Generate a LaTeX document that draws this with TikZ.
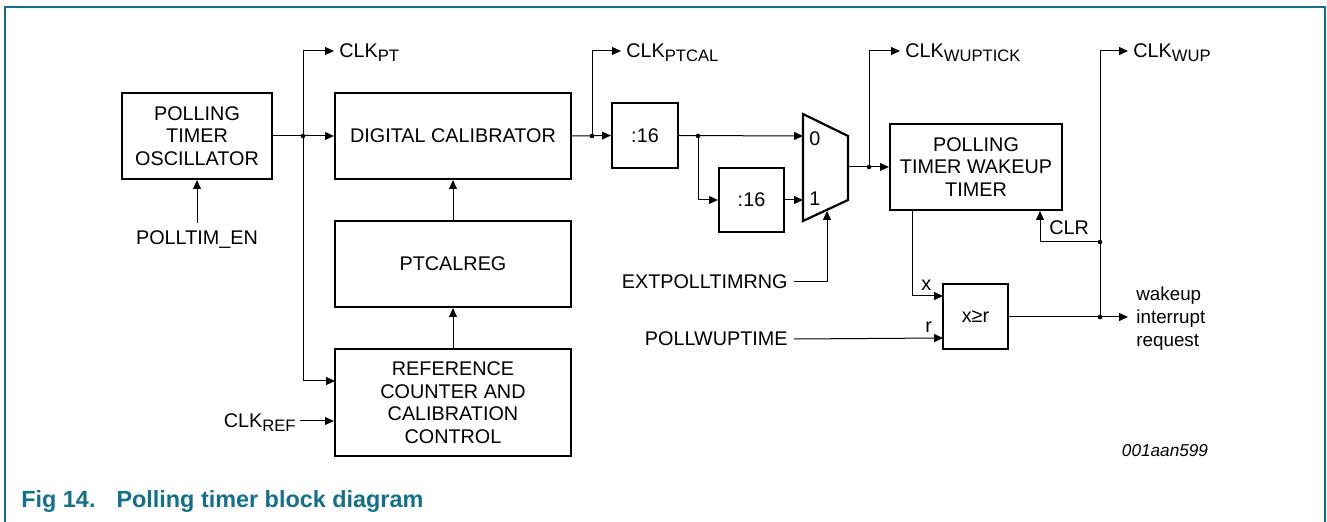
\documentclass[tikz,border=0pt]{standalone}
\usepackage{fontspec}
\setmainfont{Liberation Sans}
\usetikzlibrary{arrows.meta,calc}
\definecolor{nxpteal}{RGB}{20,112,138}
\newcommand{\lsub}[1]{\raisebox{-2pt}{\fontsize{8.3}{8.3}\selectfont #1}}
\tikzset{
  blk/.style={draw, line width=1.1pt, inner sep=0pt, align=center, font=\fontsize{9.9}{11.3}\selectfont},
  lbl/.style={inner sep=0pt, text height=7pt, text depth=0pt, font=\fontsize{9.9}{11.3}\selectfont},
  conn/.style={line width=0.5pt},
  arr/.style={line width=0.5pt, -{Triangle[length=4.4pt,width=3.9pt]}},
  jdot/.style={circle, fill, inner sep=0pt, minimum size=2.3pt},
}
\begin{document}
\begin{tikzpicture}[x=0.5pt,y=-0.5pt]
\useasboundingbox (0,0) rectangle (1327,522);
% frame
\draw[nxpteal, line width=0.75pt] (5,522) -- (5,7) -- (1325,7) -- (1325,522);
% blocks
\node[blk, minimum width=75pt, minimum height=43pt] (osc) at (197,136) {POLLING\\TIMER\\OSCILLATOR};
\node[blk, minimum width=118pt, minimum height=43pt] (dcal) at (453,136) {DIGITAL CALIBRATOR};
\node[blk, minimum width=118pt, minimum height=43pt] (ptcal) at (453,264) {PTCALREG};
\node[blk, minimum width=118pt, minimum height=53.5pt] (ref) at (453,402.5) {REFERENCE\\COUNTER AND\\CALIBRATION\\CONTROL};
\node[blk, minimum width=33pt, minimum height=32.5pt] (div1) at (645,135.5) {:16};
\node[blk, minimum width=32.5pt, minimum height=32pt] (div2) at (751.5,200) {:16};
\node[blk, minimum width=86pt, minimum height=43pt] (wut) at (976,167) {POLLING\\TIMER WAKEUP\\TIMER};
\node[blk, minimum width=32.5pt, minimum height=32.5pt] (cmp) at (975.5,316.5) {x\raisebox{0.3pt}{≥}r};
% mux
\draw[line width=1.1pt, line join=miter] (803,114) -- (848,136) -- (848,200) -- (803,221) -- cycle;
\coordinate (mux0) at (803,136);
\coordinate (mux1) at (803,200);
\coordinate (muxout) at (848,167);
\coordinate (muxsel) at (827,211);
\node[lbl, anchor=west] (m0) at (809,139) {0};
\node[lbl, anchor=west] (m1) at (809,199) {1};
% junctions
\coordinate (jn1) at (303,136);
\coordinate (jn2) at (592,136);
\coordinate (jn3) at (698,136);
\coordinate (jn4) at (869,167);
\coordinate (jn5) at (1100,317);
\coordinate (jn6) at (1100,242);
% tips
\coordinate (tpt) at (334,51);
\coordinate (tptcal) at (621,51);
\coordinate (twt) at (900,51);
\coordinate (twup) at (1128,51);
\coordinate (twi) at (1128,317);
\coordinate (refin1) at (335,381);
\coordinate (cmpx) at (943,296);
\coordinate (cmpr) at (943,338);
\coordinate (wutx) at (912,211);
\coordinate (clrin) at (1040,211);
% labels
\node[lbl, anchor=west] (clkpt) at (339,51) {CLK\lsub{PT}};
\node[lbl, anchor=west] (clkptcal) at (626,51) {CLK\lsub{PTCAL}};
\node[lbl, anchor=west] (clkwuptick) at (905,51) {CLK\lsub{WUPTICK}};
\node[lbl, anchor=west] (clkwup) at (1133,51) {CLK\lsub{WUP}};
\node[lbl, anchor=north] (polltim) at (197,230) {POLLTIM\_EN};
\node[lbl, anchor=east] (clkref) at (296,421) {CLK\lsub{REF}};
\node[lbl, anchor=east] (ext) at (788,282) {EXTPOLLTIMRNG};
\node[lbl, anchor=east] (pollwup) at (788,339) {POLLWUPTIME};
\node[lbl, anchor=west] (xl) at (921,284) {x};
\node[lbl, anchor=west] (rl) at (925,326) {r};
\node[lbl, anchor=west] (clr) at (1049,228) {CLR};
\node[inner sep=0pt, anchor=west, align=left, font=\fontsize{9.4}{11.5}\selectfont] (wir) at (1136,319) {wakeup\\interrupt\\request};
\node[inner sep=0pt, font=\fontsize{8.6}{10}\selectfont\itshape] (fid) at (1165,451) {001aan599};
\node[inner sep=0pt, anchor=west, text=nxpteal, font=\fontsize{11.7}{13}\bfseries] (cap) at (21,502) {Fig 14.\hspace{10.5pt}Polling timer block diagram};
% connectors
\draw[arr] (osc.east) -- (dcal.west);
\draw[arr] (jn1) |- (tpt);
\draw[arr] (jn1) |- (refin1);
\draw[arr] (clkref.east) ++(4,0) -- (ref.west |- clkref.east);
\draw[arr] (polltim.north) ++(0,-7) -- (osc.south);
\draw[arr] (ptcal.north) -- (dcal.south);
\draw[arr] (ref.north) -- (ptcal.south);
\draw[arr] (dcal.east) -- (div1.west);
\draw[arr] (jn2) |- (tptcal);
\draw[arr] (div1.east) -- (mux0);
\draw[arr] (jn3) |- (div2.west);
\draw[arr] (div2.east) -- (mux1);
\draw[arr] (muxout) -- (wut.west |- muxout);
\draw[arr] (jn4) |- (twt);
\draw[arr] (ext.east) ++(6,0) -| (muxsel);
\draw[arr] (pollwup.east) ++(6,0) -- (cmpr);
\draw[arr] (wutx) |- (cmpx);
\draw[arr] (cmp.east |- jn5) -- (twi);
\draw[arr] (jn5) |- (twup);
\draw[arr] (jn6) -| (clrin);
% dots
\foreach \j in {jn1,jn2,jn3,jn4,jn5,jn6} \node[jdot] at (\j) {};
\end{tikzpicture}
\end{document}
